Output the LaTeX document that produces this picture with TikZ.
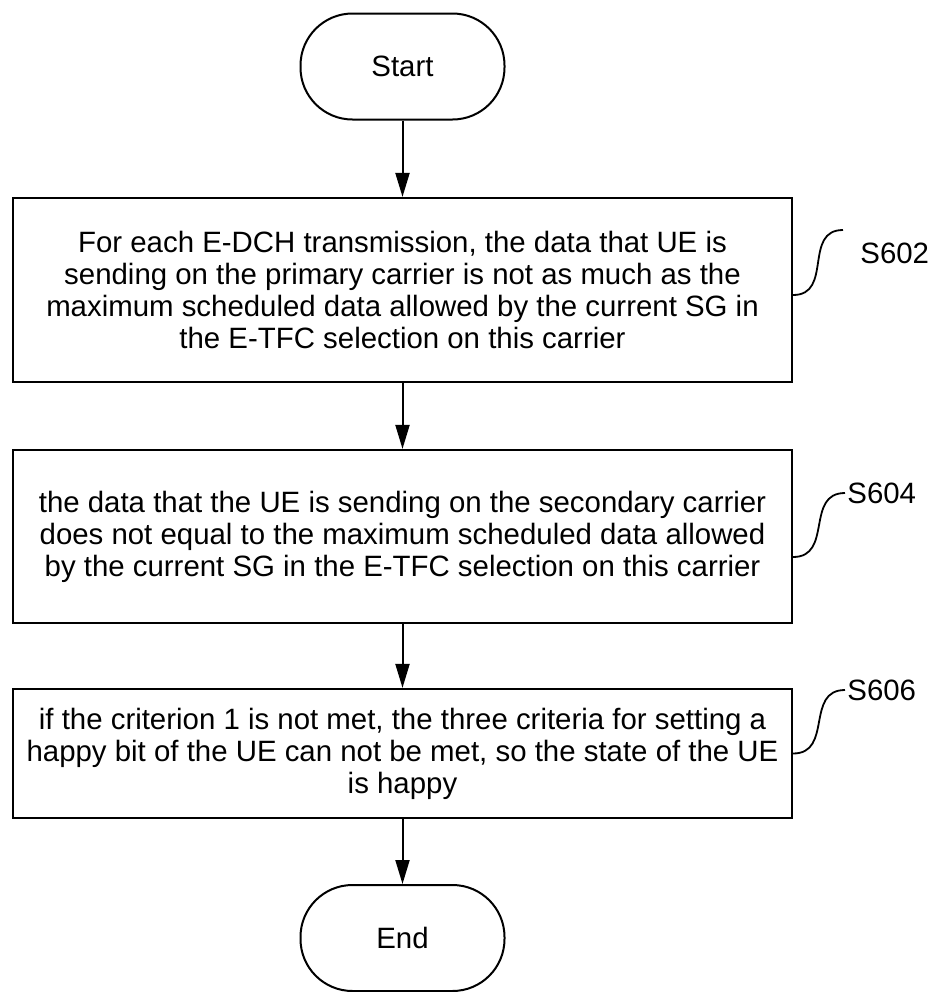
\documentclass[tikz,border=0pt]{standalone}
\usepackage{fontspec}
\setmainfont{Liberation Sans}
\usetikzlibrary{arrows.meta}

\begin{document}
\begin{tikzpicture}[x=0.5pt,y=-0.5pt,
  every node/.style={font=\fontsize{14.7}{16}\selectfont},
  term/.style={draw,line width=1pt,rounded corners=26pt,minimum width=102pt,minimum height=53pt,inner sep=0pt},
  stepbox/.style={draw,line width=1.1pt,minimum width=389.5pt,align=center,inner sep=0pt},
  flow/.style={line width=1pt,-{Triangle[length=12pt,width=7pt]}},
  brace/.style={line width=0.9pt},
  steplabel/.style={anchor=west,inner sep=1pt}]
\useasboundingbox (0,0) rectangle (932,992);

\node[term] (start) at (402.5,66.5) {Start};

\node[stepbox,minimum height=92pt] (s602) at (402.5,290) {For each E-DCH transmission, the data that UE is\\
sending on the primary carrier is not as much as the\\
maximum scheduled data allowed by the current SG in\\
the E-TFC selection on this carrier};

\node[stepbox,minimum height=86.5pt] (s604) at (402.5,536.5) {the data that the UE is sending on the secondary carrier\\
does not equal to the maximum scheduled data allowed\\
by the current SG in the E-TFC selection on this carrier};

\node[stepbox,minimum height=64.5pt] (s606) at (402.5,753.5) {if the criterion 1 is not met, the three criteria for setting a\\
happy bit of the UE can not be met, so the state of the UE\\
is happy};

\node[term] (end) at (402.5,938) {End};

% step labels
\coordinate (t602) at (843,230);
\node[steplabel] (l602) at (858,253) {S602};
\node[steplabel] (l604) at (845,493) {S604};
\node[steplabel] (l606) at (845,690) {S606};

\draw[flow] (start.south) -- (s602.north);
\draw[flow] (s602.south) -- (s604.north);
\draw[flow] (s604.south) -- (s606.north);
\draw[flow] (s606.south) -- (end.north);

\draw[brace] ([yshift=-2.5pt]s602.east) .. controls +(40,0) and +(-40,0) .. (t602);
\draw[brace] ([yshift=-10.25pt]s604.east) .. controls +(40,0) and +(-40,0) .. (l604.west);
\draw[brace] (s606.east) .. controls +(40,0) and +(-40,0) .. (l606.west);
\end{tikzpicture}
\end{document}
